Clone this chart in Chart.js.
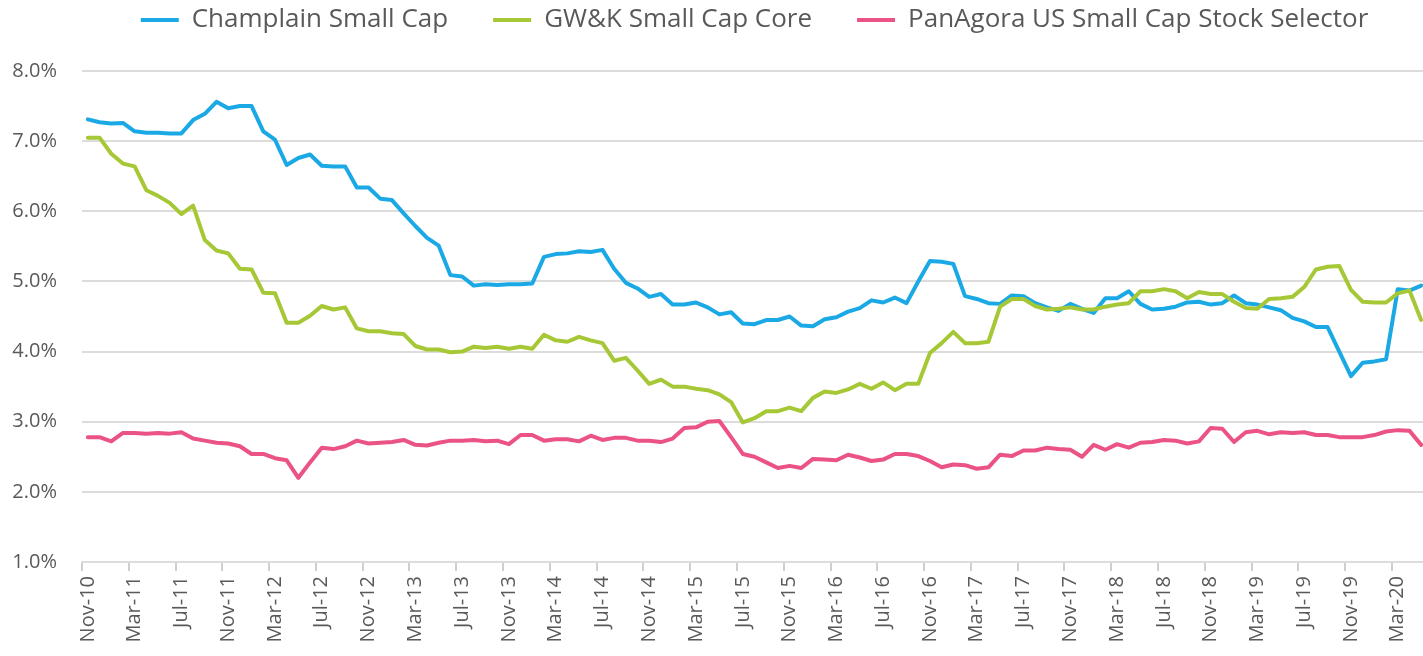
<!DOCTYPE html>
<html>
<head>
<meta charset="utf-8">
<title>Small Cap yields</title>
<script src="https://cdn.jsdelivr.net/npm/chart.js@4.4.1/dist/chart.umd.min.js"></script>
<style>
  html, body { margin: 0; padding: 0; background: #fff; overflow: hidden; }
  #wrap { position: relative; width: 1427px; height: 656px; }
</style>
</head>
<body>
<div id="wrap"><canvas id="chart"></canvas></div>
<script>
"use strict";

const months = [
    'Nov-10', 'Dec-10',
    'Jan-11', 'Feb-11', 'Mar-11', 'Apr-11', 'May-11', 'Jun-11', 'Jul-11', 'Aug-11', 'Sep-11', 'Oct-11', 'Nov-11', 'Dec-11',
    'Jan-12', 'Feb-12', 'Mar-12', 'Apr-12', 'May-12', 'Jun-12', 'Jul-12', 'Aug-12', 'Sep-12', 'Oct-12', 'Nov-12', 'Dec-12',
    'Jan-13', 'Feb-13', 'Mar-13', 'Apr-13', 'May-13', 'Jun-13', 'Jul-13', 'Aug-13', 'Sep-13', 'Oct-13', 'Nov-13', 'Dec-13',
    'Jan-14', 'Feb-14', 'Mar-14', 'Apr-14', 'May-14', 'Jun-14', 'Jul-14', 'Aug-14', 'Sep-14', 'Oct-14', 'Nov-14', 'Dec-14',
    'Jan-15', 'Feb-15', 'Mar-15', 'Apr-15', 'May-15', 'Jun-15', 'Jul-15', 'Aug-15', 'Sep-15', 'Oct-15', 'Nov-15', 'Dec-15',
    'Jan-16', 'Feb-16', 'Mar-16', 'Apr-16', 'May-16', 'Jun-16', 'Jul-16', 'Aug-16', 'Sep-16', 'Oct-16', 'Nov-16', 'Dec-16',
    'Jan-17', 'Feb-17', 'Mar-17', 'Apr-17', 'May-17', 'Jun-17', 'Jul-17', 'Aug-17', 'Sep-17', 'Oct-17', 'Nov-17', 'Dec-17',
    'Jan-18', 'Feb-18', 'Mar-18', 'Apr-18', 'May-18', 'Jun-18', 'Jul-18', 'Aug-18', 'Sep-18', 'Oct-18', 'Nov-18', 'Dec-18',
    'Jan-19', 'Feb-19', 'Mar-19', 'Apr-19', 'May-19', 'Jun-19', 'Jul-19', 'Aug-19', 'Sep-19', 'Oct-19', 'Nov-19', 'Dec-19',
    'Jan-20', 'Feb-20', 'Mar-20', 'Apr-20', 'May-20'
];

// values in %
const champlain = [
    7.31, 7.27, 7.25, 7.26, 7.14, 7.12, 7.12, 7.11, 7.11, 7.30, 7.39, 7.56, 7.47, 7.50, 7.50, 7.14,
    7.02, 6.66, 6.76, 6.81, 6.65, 6.64, 6.64, 6.34, 6.34, 6.18, 6.16, 5.97, 5.79, 5.62, 5.51, 5.09,
    5.07, 4.94, 4.96, 4.95, 4.96, 4.96, 4.97, 5.35, 5.39, 5.40, 5.43, 5.42, 5.45, 5.18, 4.98, 4.90,
    4.78, 4.82, 4.67, 4.67, 4.70, 4.63, 4.53, 4.56, 4.40, 4.39, 4.45, 4.45, 4.50, 4.37, 4.36, 4.46,
    4.49, 4.57, 4.62, 4.73, 4.70, 4.77, 4.69, 5.00, 5.29, 5.28, 5.25, 4.79, 4.75, 4.69, 4.68, 4.80,
    4.79, 4.69, 4.63, 4.58, 4.68, 4.61, 4.55, 4.76, 4.76, 4.86, 4.68, 4.60, 4.61, 4.64, 4.70, 4.71,
    4.67, 4.69, 4.80, 4.69, 4.67, 4.63, 4.59, 4.48, 4.43, 4.35, 4.35, 4.00, 3.65, 3.84, 3.86, 3.89,
    4.89, 4.87, 4.94
];

const gwk = [
    7.05, 7.05, 6.82, 6.68, 6.64, 6.30, 6.22, 6.12, 5.96, 6.08, 5.59, 5.44, 5.40, 5.18, 5.17, 4.84,
    4.83, 4.41, 4.41, 4.51, 4.65, 4.60, 4.63, 4.33, 4.29, 4.29, 4.26, 4.25, 4.08, 4.03, 4.03, 3.99,
    4.00, 4.07, 4.05, 4.07, 4.04, 4.07, 4.04, 4.24, 4.16, 4.14, 4.21, 4.16, 4.12, 3.87, 3.91, 3.73,
    3.54, 3.60, 3.50, 3.50, 3.47, 3.45, 3.39, 3.28, 2.99, 3.05, 3.15, 3.15, 3.20, 3.15, 3.34, 3.43,
    3.41, 3.46, 3.54, 3.47, 3.56, 3.45, 3.54, 3.54, 3.98, 4.12, 4.28, 4.12, 4.12, 4.14, 4.64, 4.75,
    4.75, 4.65, 4.60, 4.61, 4.63, 4.60, 4.60, 4.64, 4.67, 4.69, 4.86, 4.86, 4.89, 4.86, 4.76, 4.85,
    4.82, 4.82, 4.71, 4.62, 4.61, 4.75, 4.76, 4.78, 4.92, 5.17, 5.21, 5.22, 4.88, 4.71, 4.70, 4.70,
    4.83, 4.87, 4.45
];

const panagora = [
    2.78, 2.78, 2.72, 2.84, 2.84, 2.83, 2.84, 2.83, 2.85, 2.76, 2.73, 2.70, 2.69, 2.65, 2.54, 2.54,
    2.48, 2.45, 2.20, 2.42, 2.63, 2.61, 2.65, 2.73, 2.69, 2.70, 2.71, 2.74, 2.67, 2.66, 2.70, 2.73,
    2.73, 2.74, 2.72, 2.73, 2.68, 2.81, 2.81, 2.73, 2.75, 2.75, 2.72, 2.80, 2.74, 2.77, 2.77, 2.73,
    2.73, 2.71, 2.76, 2.91, 2.92, 3.00, 3.01, 2.78, 2.54, 2.50, 2.42, 2.34, 2.37, 2.34, 2.47, 2.46,
    2.45, 2.53, 2.49, 2.44, 2.46, 2.54, 2.54, 2.51, 2.44, 2.35, 2.39, 2.38, 2.33, 2.35, 2.53, 2.51,
    2.59, 2.59, 2.63, 2.61, 2.60, 2.50, 2.67, 2.60, 2.68, 2.63, 2.70, 2.71, 2.74, 2.73, 2.69, 2.72,
    2.91, 2.90, 2.71, 2.85, 2.87, 2.82, 2.85, 2.84, 2.85, 2.81, 2.81, 2.78, 2.78, 2.78, 2.81, 2.86,
    2.88, 2.87, 2.67
];

const seriesNames = ['Champlain Small Cap', 'GW&K Small Cap Core', 'PanAgora US Small Cap Stock Selector'];
const seriesColors = ['#1ba9e6', '#a6c836', '#ea5383'];

const FONT = "'Open Sans', 'DejaVu Sans', sans-serif";
const TEXT = '#595959';
const GRID = '#dcdcdc';

function makeLine(i, data) {
    return {
        label: seriesNames[i],
        data: data,
        borderColor: seriesColors[i],
        backgroundColor: seriesColors[i],
        borderWidth: 4,
        borderJoinStyle: 'round',
        borderCapStyle: 'round',
        pointRadius: 0,
        tension: 0,
        fill: false,
        order: 2 - i,   // later series on top, like the original
    };
}

const ctx = document.getElementById('chart').getContext('2d');
const chart = new Chart(ctx, {
    type: 'line',
    data: {
        labels: months,
        datasets: [
            makeLine(0, champlain),
            makeLine(1, gwk),
            makeLine(2, panagora),
        ]
    },
    options: {
        responsive: true,
        maintainAspectRatio: false,
        animation: false,
        layout: {
            padding: { top: -38, left: 0, right: 0, bottom: 0 }
        },
        plugins: {
            legend: {
                position: 'top',
                fullSize: false,
                align: 'center',
                labels: {
                    usePointStyle: true,
                    pointStyle: 'line',
                    pointStyleWidth: 38,
                    padding: 45,
                    color: TEXT,
                    font: { family: FONT, size: 26 },
                    sort: (a, b) => a.datasetIndex - b.datasetIndex,
                }
            },
            // empty spacer between legend and plot area
            title: {
                display: true,
                text: '',
                weight: 500,
                font: { size: 10, lineHeight: 1 },
                padding: { top: 0, bottom: 18 },
            },
            tooltip: { enabled: false }
        },
        scales: {
            x: {
                offset: true,
                grid: {
                    display: true,
                    offset: true,
                    drawOnChartArea: false,
                    drawTicks: true,
                    tickLength: 9,
                    lineWidth: 2,
                    color: (c) => (c.index % 4 === 0 ? '#cfcfcf' : 'rgba(0,0,0,0)'),
                },
                border: { display: true, color: GRID, width: 2 },
                ticks: {
                    autoSkip: false,
                    minRotation: 90,
                    maxRotation: 90,
                    padding: 5,
                    color: TEXT,
                    font: { family: FONT, size: 20 },
                    callback: function (val, index) {
                        return index % 4 === 0 ? this.getLabelForValue(val) : '';
                    }
                },
                afterFit: (scale) => {
                    scale.height = 94;
                    scale.paddingLeft = 0;
                    scale.paddingRight = 0;
                }
            },
            y: {
                min: 1,
                max: 8,
                grid: {
                    color: GRID,
                    lineWidth: 2,
                    drawTicks: false,
                },
                border: { display: false },
                ticks: {
                    stepSize: 1,
                    padding: 25,
                    color: TEXT,
                    font: { family: FONT, size: 20 },
                    callback: (v) => v.toFixed(1) + '%'
                },
                afterFit: (scale) => { scale.width = 82; }
            }
        }
    }
});
</script>
</body>
</html>
